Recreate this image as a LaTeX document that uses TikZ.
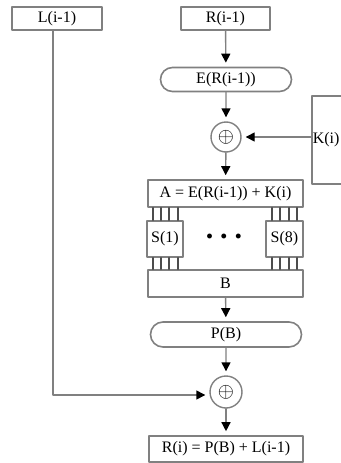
\documentclass[tikz,border=0pt]{standalone}
\usepackage{fontspec}
\setmainfont{Liberation Serif}
\usetikzlibrary{arrows.meta,shapes.misc}
\begin{document}
\begin{tikzpicture}[x=1pt, y=-1pt, font=\fontsize{16}{18}\selectfont, line join=round,
		line cap=round, >={Triangle[width=9pt,length=9pt,color=black]}]
			\useasboundingbox (0,0) rectangle (340,463);
			\tikzset{box/.style={draw=gray, line width=1.6pt, inner sep=1pt, minimum height=#1},
				box/.default=23,
				stadium/.style={draw=gray, line width=1.6pt, rounded rectangle, inner sep=1pt, minimum height=24},
				xor/.style={draw=gray, line width=1.4pt, circle, minimum size=#1, inner sep=0pt,
					font=\fontsize{22}{22}\selectfont},
				arr/.style={draw=gray, line width=1.4pt, ->, shorten >=4pt},
				wire/.style={draw=gray!60!black, line width=2pt}}
			\node[box, minimum width=90] (Lprev) at (57,18.5) {L(i-1)};
			\node[box, minimum width=89] (Rprev) at (225.5,18.5) {R(i-1)};
			\node[stadium, minimum width=133] (ER) at (226,79.5) {E(R(i-1))};
			\node[xor=30] (x1) at (226,137) {$\oplus$};
			\node[box=88, anchor=west, text width=80, align=left] (Ki) at (311,140) {K(i)};
			\node[box=27, minimum width=155] (A) at (225.5,193.5) {A = E(R(i-1)) + K(i)};
			\node[box=36, minimum width=36] (S1) at (165,239) {S(1)};
			\node[box=36, minimum width=37] (S8) at (284.5,239) {S(8)};
			\node (dots) at (224,236) {\fontsize{30}{30}\selectfont\bfseries .\hspace{7pt}.\hspace{7pt}.};
			\node[box=27, minimum width=155] (B) at (225.5,283.5) {B};
			\node[stadium, minimum width=153, minimum height=25] (PB) at (226,334.5) {P(B)};
			\node[xor=32] (x2) at (226,392) {$\oplus$};
			\node[box=26, minimum width=154] (Ri) at (226,449) {R(i) = P(B) + L(i-1)};
			\coordinate (lturn) at (53,395);
			\draw[arr] (Rprev) -- (ER);
			\draw[arr] (ER) -- (x1);
			\draw[arr] (Ki.west |- x1) -- (x1);
			\draw[arr] (x1) -- (A);
			\draw[arr] (B) -- (PB);
			\draw[arr] (PB) -- (x2);
			\draw[arr] (Lprev.south -| lturn) |- (x2.west |- lturn);
			\draw[arr] (x2) -- (Ri);
			\foreach \i in {-12.5,-4.2,4.2,12.5} {
				\draw[wire] ([xshift=\i]S1.north) -- ([xshift=\i]S1.north |- A.south);
				\draw[wire] ([xshift=\i]S1.south) -- ([xshift=\i]S1.south |- B.north);
				\draw[wire] ([xshift=\i]S8.north) -- ([xshift=\i]S8.north |- A.south);
				\draw[wire] ([xshift=\i]S8.south) -- ([xshift=\i]S8.south |- B.north);
			}
		\end{tikzpicture}
\end{document}
